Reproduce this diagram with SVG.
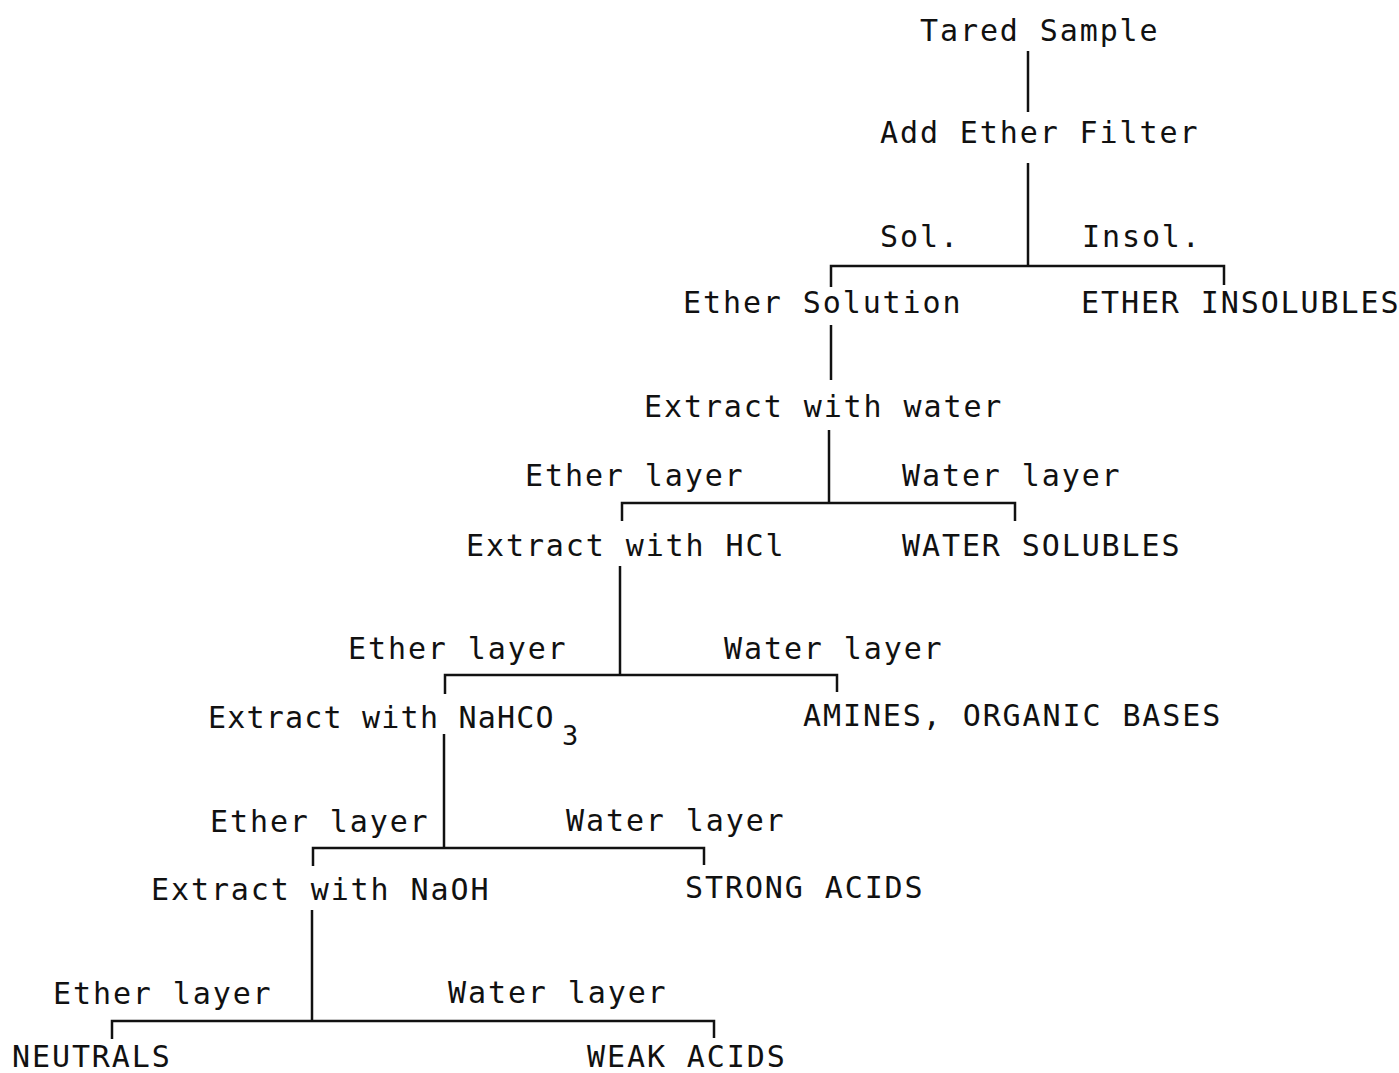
<svg xmlns="http://www.w3.org/2000/svg" width="1399" height="1073" viewBox="0 0 1399 1073">
<style>
text{font-family:"DejaVu Sans Mono","Liberation Mono",monospace;font-size:30px;letter-spacing:1.9px;fill:#111}
.tight{letter-spacing:1.2px}
.sub{font-size:27px;letter-spacing:0}
#connectors path{fill:none;stroke:#111;stroke-width:2.5}
</style>
<rect width="1399" height="1073" fill="#fff"/>
<g id="connectors">
<path d="M1028 51V112"/>
<path d="M1028 163V266"/>
<path d="M831 287V266H1224V285"/>
<path d="M831 325V380"/>
<path d="M829 430V503"/>
<path d="M622 521V503H1015V521"/>
<path d="M620 566V676"/>
<path d="M445 694V675H837V692"/>
<path d="M444 734V848"/>
<path d="M313 866V848H704V865"/>
<path d="M312 910V1021"/>
<path d="M112 1039V1021H714V1038"/>
</g>
<g id="n-tared"><text x="920" y="41">Tared Sample</text></g>
<g id="n-addether"><text x="880" y="143">Add Ether Filter</text></g>
<g id="l-sol"><text x="880" y="247">Sol.</text></g>
<g id="l-insol"><text x="1082" y="247">Insol.</text></g>
<g id="n-ethersol"><text x="683" y="313">Ether Solution</text></g>
<g id="n-etherinsol"><text x="1081" y="313">ETHER INSOLUBLES</text></g>
<g id="n-extwater"><text x="644" y="417">Extract with water</text></g>
<g id="l-ether1"><text x="525" y="486">Ether layer</text></g>
<g id="l-water1"><text x="902" y="486">Water layer</text></g>
<g id="n-exthcl"><text x="466" y="556">Extract with HCl</text></g>
<g id="n-watersol"><text x="902" y="556">WATER SOLUBLES</text></g>
<g id="l-ether2"><text x="348" y="659">Ether layer</text></g>
<g id="l-water2"><text x="724" y="659">Water layer</text></g>
<g id="n-extnahco3"><text class="tight" x="208" y="728">Extract with NaHCO</text><text class="sub" x="562" y="745">3</text></g>
<g id="n-amines"><text x="803" y="726">AMINES, ORGANIC BASES</text></g>
<g id="l-ether3"><text x="210" y="832">Ether layer</text></g>
<g id="l-water3"><text x="566" y="831">Water layer</text></g>
<g id="n-extnaoh"><text x="151" y="900">Extract with NaOH</text></g>
<g id="n-strong"><text x="685" y="898">STRONG ACIDS</text></g>
<g id="l-ether4"><text x="53" y="1004">Ether layer</text></g>
<g id="l-water4"><text x="448" y="1003">Water layer</text></g>
<g id="n-neutrals"><text x="12" y="1067">NEUTRALS</text></g>
<g id="n-weak"><text x="587" y="1067">WEAK ACIDS</text></g>
</svg>
